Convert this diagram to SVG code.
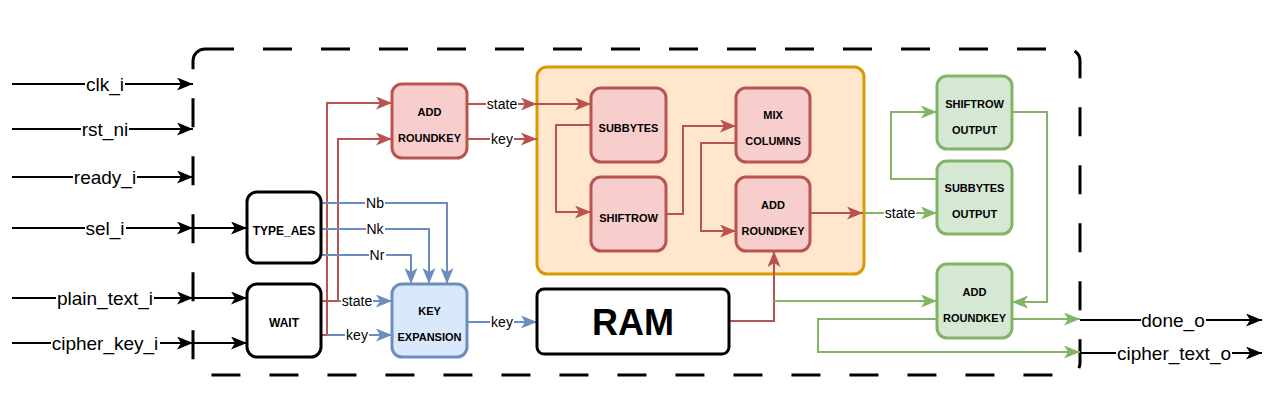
<svg xmlns="http://www.w3.org/2000/svg" width="1271" height="408" viewBox="0 0 1271 408">
<style>
.box{stroke-width:3}
.blk{fill:#fff;stroke:#000}
.red{fill:#f8cecc;stroke:#b85450}
.blu{fill:#dae8fc;stroke:#6c8ebf}
.grn{fill:#d5e8d4;stroke:#82b366}
.org{fill:#ffe6cc;stroke:#d79b00}
.bt{font-family:"Liberation Sans",Arial,sans-serif;font-weight:bold;font-size:11px;text-anchor:middle;fill:#000}
.bt12{font-size:12px}
.io{font-family:"Liberation Sans",Arial,sans-serif;font-size:19px;text-anchor:middle;fill:#000}
.lb{font-family:"Liberation Sans",Arial,sans-serif;font-size:14px;text-anchor:middle;fill:#000}
.bg{fill:#fff}
.c{fill:none;stroke-width:2}
.ck{stroke:#000;marker-end:url(#ak)}
.cr{stroke:#b85450}
.cb{stroke:#6c8ebf}
.cg{stroke:#82b366}
</style>
<defs>
<marker id="ak" markerUnits="userSpaceOnUse" markerWidth="17" markerHeight="13" refX="16" refY="6.5" orient="auto"><path d="M0,0 L16,6.5 L0,13 L4,6.5 Z" fill="#000"/></marker>
<marker id="ar" markerUnits="userSpaceOnUse" markerWidth="17" markerHeight="13" refX="16" refY="6.5" orient="auto"><path d="M0,0 L16,6.5 L0,13 L4,6.5 Z" fill="#b85450"/></marker>
<marker id="ab" markerUnits="userSpaceOnUse" markerWidth="17" markerHeight="13" refX="16" refY="6.5" orient="auto"><path d="M0,0 L16,6.5 L0,13 L4,6.5 Z" fill="#6c8ebf"/></marker>
<marker id="ag" markerUnits="userSpaceOnUse" markerWidth="17" markerHeight="13" refX="16" refY="6.5" orient="auto"><path d="M0,0 L16,6.5 L0,13 L4,6.5 Z" fill="#82b366"/></marker>
</defs>
<rect width="1271" height="408" fill="#fff"/>
<!-- dashed boundary -->
<rect id="boundary" x="193" y="49" width="887" height="326" rx="12" fill="none" stroke="#000" stroke-width="3" stroke-dasharray="29 29"/>

<g id="orange-container"><rect class="box org" x="537" y="67" width="327" height="207" rx="10"/></g>

<g id="connectors">
<!-- inputs -->
<path class="c ck" d="M12,84 H193"/>
<path class="c ck" d="M12,129 H193"/>
<path class="c ck" d="M12,177 H193"/>
<path class="c ck" d="M12,228 H193"/>
<path class="c ck" d="M193,228 H247"/>
<path class="c ck" d="M12,298 H193"/>
<path class="c ck" d="M193,298 H247"/>
<path class="c ck" d="M12,343 H193"/>
<path class="c ck" d="M193,343 H247"/>
<!-- outputs -->
<path class="c ck" d="M1080,320 H1262"/>
<path class="c ck" d="M1080,353 H1262"/>
<!-- red -->
<path class="c cr" marker-end="url(#ar)" d="M321,301 H338 V139 H392"/>
<path class="c cr" marker-end="url(#ar)" d="M321,335 H327 V103 H392"/>
<path class="c cr" marker-end="url(#ar)" d="M467,104 H537"/>
<path class="c cr" marker-end="url(#ar)" d="M537,104 H591"/>
<path class="c cr" marker-end="url(#ar)" d="M467,139 H537"/>
<path class="c cr" marker-end="url(#ar)" d="M591,125 H556 V212 H591"/>
<path class="c cr" marker-end="url(#ar)" d="M666,214 H683 V126 H736"/>
<path class="c cr" marker-end="url(#ar)" d="M736,143 H701 V231 H736"/>
<path class="c cr" marker-end="url(#ar)" d="M810,213 H863"/>
<path class="c cr" marker-end="url(#ar)" d="M729,321 H774 V251"/>
<!-- blue -->
<path class="c cb" marker-end="url(#ab)" d="M321,203 H447 V284"/>
<path class="c cb" marker-end="url(#ab)" d="M321,229 H429 V284"/>
<path class="c cb" marker-end="url(#ab)" d="M321,255 H411 V284"/>
<path class="c cb" marker-end="url(#ab)" d="M338,301 H392"/>
<path class="c cb" marker-end="url(#ab)" d="M327,335 H392"/>
<path class="c cb" marker-end="url(#ab)" d="M467,322 H537"/>
<!-- green -->
<path class="c cg" marker-end="url(#ag)" d="M863,213 H937"/>
<path class="c cg" marker-end="url(#ag)" d="M937,179 H891 V112 H937"/>
<path class="c cg" marker-end="url(#ag)" d="M1012,112 H1047 V302 H1012"/>
<path class="c cg" marker-end="url(#ag)" d="M774,301 H937"/>
<path class="c cg" marker-end="url(#ag)" d="M1012,319 H1080"/>
<path class="c cg" marker-end="url(#ag)" d="M937,319 H818 V352 H1080"/>
<!-- label backgrounds -->
<rect class="bg" x="85" y="78" width="40" height="12"/>
<rect class="bg" x="81" y="123" width="48" height="12"/>
<rect class="bg" x="73" y="171" width="64" height="12"/>
<rect class="bg" x="85" y="222" width="41" height="12"/>
<rect class="bg" x="56" y="292" width="98" height="12"/>
<rect class="bg" x="51" y="337" width="109" height="12"/>
<rect class="bg" x="1141" y="314" width="65" height="12"/>
<rect class="bg" x="1116" y="347" width="116" height="12"/>
<rect class="bg" x="486" y="99" width="32" height="10"/>
<rect class="bg" x="490" y="134" width="24" height="10"/>
<rect class="bg" x="365" y="198" width="20" height="10"/>
<rect class="bg" x="366" y="224" width="19" height="10"/>
<rect class="bg" x="369" y="250" width="17" height="10"/>
<rect class="bg" x="341" y="296" width="32" height="10"/>
<rect class="bg" x="345" y="330" width="24" height="10"/>
<rect class="bg" x="490" y="317" width="24" height="10"/>
<rect class="bg" x="884" y="208" width="32" height="10"/>
<!-- labels -->
<text class="io" x="105" y="91">clk_i</text>
<text class="io" x="105" y="136">rst_ni</text>
<text class="io" x="105" y="184">ready_i</text>
<text class="io" x="105" y="235">sel_i</text>
<text class="io" x="105" y="305">plain_text_i</text>
<text class="io" x="105" y="350">cipher_key_i</text>
<text class="io" x="1173" y="327">done_o</text>
<text class="io" x="1174" y="360">cipher_text_o</text>
<text class="lb" x="502" y="109">state</text>
<text class="lb" x="502" y="144">key</text>
<text class="lb" x="375" y="208">Nb</text>
<text class="lb" x="375" y="234">Nk</text>
<text class="lb" x="377" y="260">Nr</text>
<text class="lb" x="357" y="306">state</text>
<text class="lb" x="357" y="340">key</text>
<text class="lb" x="502" y="327">key</text>
<text class="lb" x="900" y="218">state</text>
</g>

<g id="type-aes"><rect class="box blk" x="247" y="192" width="74" height="71" rx="10"/><text class="bt bt12" x="284" y="235">TYPE_AES</text></g>
<g id="wait"><rect class="box blk" x="247" y="284" width="74" height="73" rx="10"/><text class="bt bt12" x="284" y="327">WAIT</text></g>
<g id="add-roundkey-1"><rect class="box red" x="392" y="84" width="75" height="74" rx="10"/><text class="bt" x="429.5" y="116">ADD</text><text class="bt" x="429.5" y="142">ROUNDKEY</text></g>
<g id="key-expansion"><rect class="box blu" x="392" y="284" width="75" height="73" rx="10"/><text class="bt" x="429.5" y="315">KEY</text><text class="bt" x="429.5" y="341">EXPANSION</text></g>
<g id="ram"><rect class="box blk" x="537" y="289" width="192" height="65" rx="7"/><text class="bt" style="font-size:36px" x="633" y="335">RAM</text></g>
<g id="subbytes"><rect class="box red" x="591" y="88" width="75" height="74" rx="10"/><text class="bt" x="628.5" y="132">SUBBYTES</text></g>
<g id="shiftrow"><rect class="box red" x="591" y="177" width="75" height="74" rx="10"/><text class="bt" x="628.5" y="222">SHIFTROW</text></g>
<g id="mix-columns"><rect class="box red" x="736" y="88" width="74" height="74" rx="10"/><text class="bt" x="773" y="119">MIX</text><text class="bt" x="773" y="145">COLUMNS</text></g>
<g id="add-roundkey-2"><rect class="box red" x="736" y="177" width="74" height="74" rx="10"/><text class="bt" x="773" y="209">ADD</text><text class="bt" x="773" y="235">ROUNDKEY</text></g>
<g id="shiftrow-output"><rect class="box grn" x="937" y="76" width="75" height="73" rx="10"/><text class="bt" x="974.5" y="108">SHIFTROW</text><text class="bt" x="974.5" y="134">OUTPUT</text></g>
<g id="subbytes-output"><rect class="box grn" x="937" y="161" width="75" height="73" rx="10"/><text class="bt" x="974.5" y="192">SUBBYTES</text><text class="bt" x="974.5" y="218">OUTPUT</text></g>
<g id="add-roundkey-3"><rect class="box grn" x="937" y="264" width="75" height="74" rx="10"/><text class="bt" x="974.5" y="296">ADD</text><text class="bt" x="974.5" y="322">ROUNDKEY</text></g>
</svg>
